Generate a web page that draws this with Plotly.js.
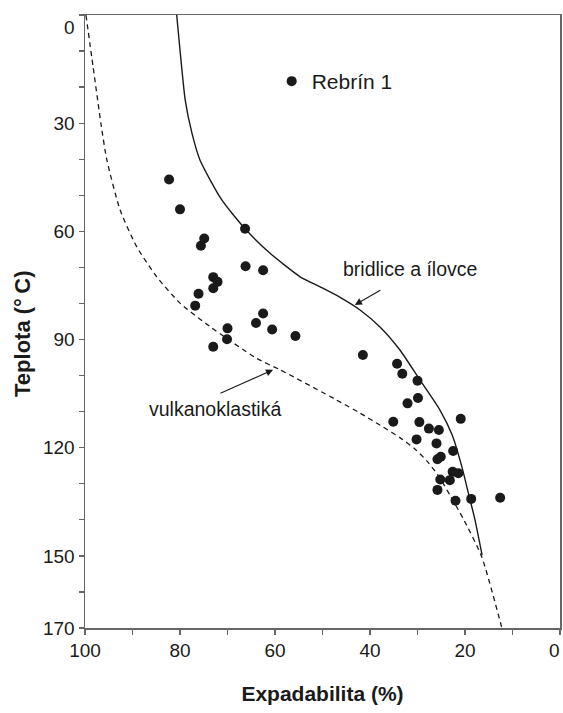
<!DOCTYPE html>
<html>
<head>
<meta charset="utf-8">
<script src="https://cdn.plot.ly/plotly-3.0.1.min.js"></script>
<style>html,body{margin:0;padding:0;background:#fff;}#chart{width:563px;height:713px;}</style>
</head>
<body>
<div id="chart"></div>
<script>
// Rebrín 1 samples: expandability (%) vs temperature (°C)
var expX = [82.3, 80.0, 66.3, 74.9, 75.6, 66.2, 62.5, 73.0, 72.1, 73.0, 76.1, 76.8, 62.5, 64.0, 60.6, 55.7, 70.0, 70.1, 73.0,
            41.5, 34.3, 33.2, 30.0, 29.9, 32.1, 35.1, 29.6, 20.9, 27.6, 25.5, 30.2, 26.0, 22.5, 25.8, 25.1, 22.6, 21.4, 25.2, 23.2, 25.8, 22.0, 18.7, 12.6];
var tempY = [45.6, 53.9, 59.3, 62.0, 64.0, 69.7, 70.8, 72.7, 74.0, 75.8, 77.3, 80.6, 82.8, 85.4, 87.2, 89.0, 86.9, 89.9, 92.0,
             94.3, 96.7, 99.5, 101.4, 106.2, 107.7, 112.8, 112.9, 112.0, 114.7, 115.1, 117.7, 118.8, 120.9, 123.2, 122.5, 126.7, 127.1, 128.8, 129.0, 131.7, 134.7, 134.2, 133.9];

// Curve: bridlice a ílovce (solid)
var shaleX = [80.7, 80.0, 78.9, 77.5, 75.8, 71.2, 66.3, 61.1, 54.7, 50.5, 46.3, 42.1, 37.9, 33.7, 29.5, 25.3, 22.7, 20.6, 19.2, 17.9, 16.4];
var shaleY = [0, 9.7, 23.6, 32.7, 40.2, 51.3, 59.3, 66.0, 72.6, 75.4, 78.3, 81.8, 86.5, 92.9, 101.2, 109.5, 116.5, 125.6, 133.1, 140.0, 149.8];

// Curve: vulkanoklastiká (dashed)
var volcX = [99.8, 98.3, 96.6, 95.4, 92.6, 89.1, 84.9, 80.0, 73.7, 63.9, 58.9, 47.0, 42.1, 37.2, 33.7, 30.5, 27.8, 25.3, 23.2, 20.4, 16.5, 12.3];
var volcY = [0, 14.3, 30.5, 40.2, 54.1, 64.3, 72.6, 79.9, 86.4, 95.2, 98.4, 106.8, 110.4, 114.3, 117.2, 120.4, 124.0, 128.4, 133.1, 139.6, 150.2, 169.7];

var xTickVals = [0, 10, 20, 30, 40, 50, 60, 70, 80, 90, 100];
var xTickText = ['', '', '20', '', '40', '', '60', '', '80', '', '100'];
var xEdgeLabel = '0';
var yTickVals = [0, 10, 20, 30, 40, 50, 60, 70, 80, 90, 100, 110, 120, 130, 140, 150, 160, 170];
var yTickText = ['<br>0', '', '', '30', '', '', '60', '', '', '90', '', '', '120', '', '', '150', '', '170'];

var FONT = 'Liberation Sans, Arial, sans-serif';
var INK = '#1a1a1a';

var traces = [
  {x: shaleX, y: shaleY, mode: 'lines', type: 'scatter', showlegend: false, hoverinfo: 'skip',
   line: {color: INK, width: 1.4, shape: 'spline', smoothing: 0.6}},
  {x: volcX, y: volcY, mode: 'lines', type: 'scatter', showlegend: false, hoverinfo: 'skip',
   line: {color: INK, width: 1.3, dash: '5px,4px', shape: 'spline', smoothing: 0.6}},
  {x: expX, y: tempY, mode: 'markers', type: 'scatter', name: 'Rebrín 1',
   marker: {color: INK, size: 10, line: {width: 0}}}
];

var axisLine = '#666';
var layout = {
  width: 563, height: 713,
  margin: {l: 85, r: 3, t: 15, b: 85},
  paper_bgcolor: '#fff', plot_bgcolor: '#fff',
  font: {family: FONT, size: 19, color: INK},
  showlegend: true,
  legend: {x: 0.393, y: 0.925, xanchor: 'left', yanchor: 'top', bgcolor: 'rgba(0,0,0,0)',
           font: {family: FONT, size: 21, color: INK}},
  xaxis: {range: [100, 0], tickmode: 'array', tickvals: xTickVals, ticktext: xTickText,
          ticks: 'outside', ticklen: 5, tickcolor: axisLine, tickwidth: 1.3,
          showline: true, linecolor: axisLine, linewidth: 1.5, mirror: true,
          showgrid: false, zeroline: false,
          tickfont: {family: FONT, size: 19, color: INK},
          title: {text: '<b>Expadabilita (%)</b>', font: {family: FONT, size: 21, color: INK}, standoff: 26}},
  yaxis: {range: [170, 0], tickmode: 'array', tickvals: yTickVals, ticktext: yTickText,
          ticks: 'outside', ticklen: 5, tickcolor: axisLine, tickwidth: 1.3,
          showline: true, linecolor: axisLine, linewidth: 1.5, mirror: true,
          showgrid: false, zeroline: false,
          tickfont: {family: FONT, size: 19, color: INK},
          title: {text: '<b>Teplota (°\u2009C)\u00a0\u00a0\u00a0\u00a0</b>', font: {family: FONT, size: 22, color: INK}, standoff: 6}},
  annotations: [
    {x: 0, y: 0, xref: 'x', yref: 'paper', xanchor: 'right', yanchor: 'middle', xshift: 2, yshift: -22,
     text: xEdgeLabel, showarrow: false, font: {family: FONT, size: 19, color: INK}},
    {x: 31.6, y: 70.4, xref: 'x', yref: 'y', text: 'bridlice a ílovce', showarrow: false,
     font: {family: FONT, size: 19.5, color: INK}},
    {x: 72.6, y: 109.3, xref: 'x', yref: 'y', text: 'vulkanoklastiká', showarrow: false,
     font: {family: FONT, size: 19.5, color: INK}},
    {x: 43.2, y: 80.4, xref: 'x', yref: 'y', ax: 37.5, ay: 76.1, axref: 'x', ayref: 'y',
     text: '', showarrow: true, arrowhead: 2, arrowsize: 1.3, arrowwidth: 1.1, arrowcolor: INK},
    {x: 60.4, y: 98.4, xref: 'x', yref: 'y', ax: 71.8, ay: 105.1, axref: 'x', ayref: 'y',
     text: '', showarrow: true, arrowhead: 2, arrowsize: 1.3, arrowwidth: 1.1, arrowcolor: INK}
  ]
};

Plotly.newPlot('chart', traces, layout, {staticPlot: true, displayModeBar: false});
</script>
</body>
</html>
